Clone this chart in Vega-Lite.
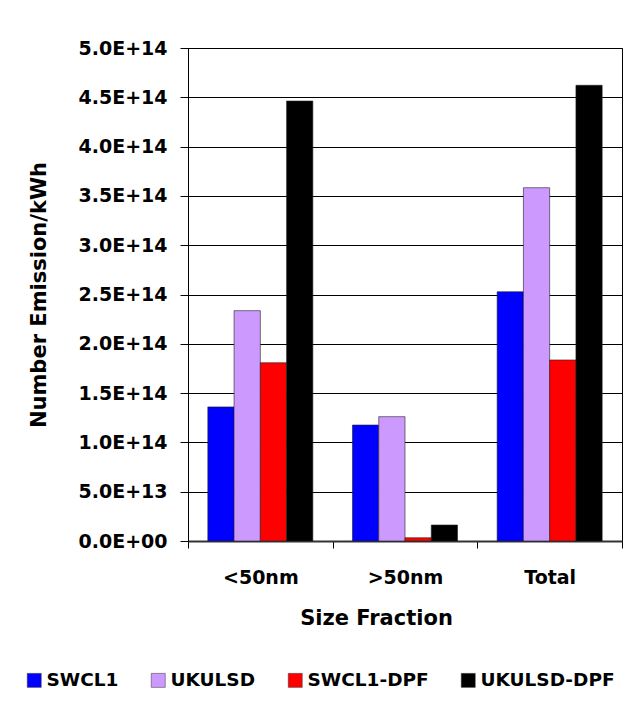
{
  "$schema": "https://vega.github.io/schema/vega-lite/v6.json",
  "autosize": {"type": "none"},
  "padding": {"left": 188, "top": 48, "right": 19, "bottom": 179},
  "width": 434,
  "height": 493,
  "background": "#ffffff",
  "data": {
    "values": [
      {"fraction": "<50nm", "fuel": "SWCL1", "emission": 1.36e14},
      {"fraction": "<50nm", "fuel": "UKULSD", "emission": 2.336e14},
      {"fraction": "<50nm", "fuel": "SWCL1-DPF", "emission": 1.808e14},
      {"fraction": "<50nm", "fuel": "UKULSD-DPF", "emission": 4.462e14},
      {"fraction": ">50nm", "fuel": "SWCL1", "emission": 1.176e14},
      {"fraction": ">50nm", "fuel": "UKULSD", "emission": 1.261e14},
      {"fraction": ">50nm", "fuel": "SWCL1-DPF", "emission": 3.3e12},
      {"fraction": ">50nm", "fuel": "UKULSD-DPF", "emission": 1.62e13},
      {"fraction": "Total", "fuel": "SWCL1", "emission": 2.528e14},
      {"fraction": "Total", "fuel": "UKULSD", "emission": 3.583e14},
      {"fraction": "Total", "fuel": "SWCL1-DPF", "emission": 1.836e14},
      {"fraction": "Total", "fuel": "UKULSD-DPF", "emission": 4.622e14}
    ]
  },
  "mark": {"type": "bar", "stroke": "#222222", "strokeWidth": 0.6},
  "encoding": {
    "x": {
      "field": "fraction",
      "type": "nominal",
      "sort": ["<50nm", ">50nm", "Total"],
      "scale": {"paddingInner": 0, "paddingOuter": 0},
      "axis": {
        "title": "Size Fraction",
        "labelAngle": 0,
        "tickBand": "extent",
        "tickSize": 7,
        "tickColor": "#000000",
        "domainColor": "#333333",
        "domainWidth": 2,
        "labelFont": "DejaVu Sans",
        "labelFontWeight": "bold",
        "labelFontSize": 19,
        "labelColor": "#000000",
        "labelPadding": 20,
        "titleFont": "DejaVu Sans",
        "titleFontWeight": "bold",
        "titleFontSize": 21,
        "titleColor": "#000000",
        "titleX": 188,
        "titleY": 83,
        "titleAlign": "center",
        "titleBaseline": "alphabetic",
        "grid": false
      }
    },
    "xOffset": {
      "field": "fuel",
      "type": "nominal",
      "sort": ["SWCL1", "UKULSD", "SWCL1-DPF", "UKULSD-DPF"],
      "scale": {"paddingInner": 0, "paddingOuter": 0.755}
    },
    "y": {
      "field": "emission",
      "type": "quantitative",
      "scale": {"domain": [0, 5e14], "nice": false},
      "axis": {
        "title": "Number Emission/kWh",
        "values": [0, 5e13, 1e14, 1.5e14, 2e14, 2.5e14, 3e14, 3.5e14, 4e14, 4.5e14, 5e14],
        "labelExpr": "datum.value == 0 ? '0.0E+00' : upper(format(datum.value, '.1e'))",
        "tickSize": 8,
        "tickColor": "#000000",
        "domainColor": "#000000",
        "gridColor": "#000000",
        "gridWidth": 1,
        "labelFont": "DejaVu Sans",
        "labelFontWeight": "bold",
        "labelFontSize": 19,
        "labelColor": "#000000",
        "labelPadding": 13,
        "titleFont": "DejaVu Sans",
        "titleFontWeight": "bold",
        "titleFontSize": 21,
        "titleColor": "#000000",
        "titleX": -143,
        "titleBaseline": "alphabetic"
      }
    },
    "color": {
      "field": "fuel",
      "type": "nominal",
      "sort": ["SWCL1", "UKULSD", "SWCL1-DPF", "UKULSD-DPF"],
      "scale": {
        "domain": ["SWCL1", "UKULSD", "SWCL1-DPF", "UKULSD-DPF"],
        "range": ["#0000ff", "#cc99ff", "#ff0000", "#000000"]
      },
      "legend": {
        "title": null,
        "orient": "none",
        "legendX": -163,
        "legendY": 623,
        "direction": "horizontal",
        "columns": 4,
        "columnPadding": 30,
        "padding": 0,
        "symbolType": "square",
        "symbolSize": 196,
        "symbolStrokeColor": "#333333",
        "symbolStrokeWidth": 0.5,
        "labelFont": "DejaVu Sans",
        "labelFontWeight": "bold",
        "labelFontSize": 18.5,
        "labelColor": "#000000",
        "labelOffset": 3,
        "labelLimit": 300
      }
    }
  },
  "config": {
    "view": {"stroke": "#000000", "strokeWidth": 1}
  }
}
